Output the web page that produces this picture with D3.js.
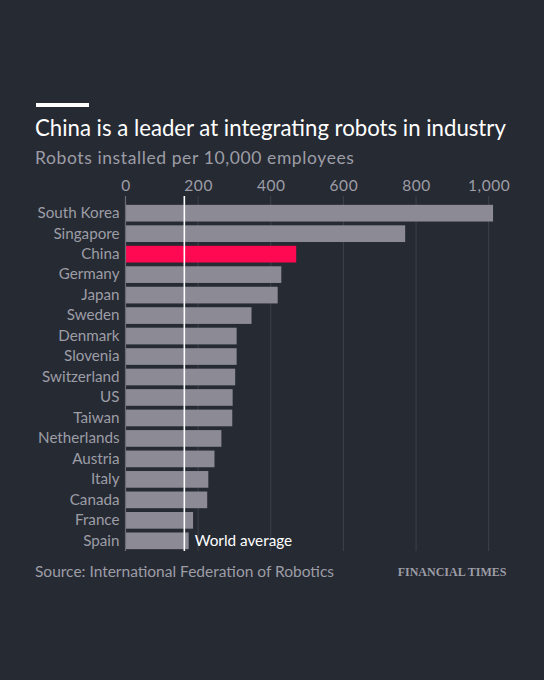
<!DOCTYPE html>
<html>
<head>
<meta charset="utf-8">
<script src="https://cdn.jsdelivr.net/npm/d3@7"></script>
<style>
  html, body { margin: 0; padding: 0; background: #262a33; }
  svg { display: block; }
</style>
</head>
<body>
<div id="chart"></div>
<script>
// ── Data ───────────────────────────────────────────────
const countries = [
  'South Korea', 'Singapore', 'China', 'Germany', 'Japan', 'Sweden',
  'Denmark', 'Slovenia', 'Switzerland', 'US', 'Taiwan', 'Netherlands',
  'Austria', 'Italy', 'Canada', 'France', 'Spain'
];
const robots = [
  1012, 770, 470, 429, 419, 347,
  306, 306, 302, 295, 294, 264,
  245, 228, 225, 186, 174
];
const worldAverage = 162;
const tickValues = [0, 200, 400, 600, 800, 1000];
const highlight = 'China';

// ── Layout ─────────────────────────────────────────────
const width = 544, height = 680;
const margin = { left: 125.5, right: 55.3, top: 203, bottom: 129 };
const sans = 'Lato, "Open Sans", sans-serif';
const grey = '#9d9da6';

const svg = d3.select('#chart')
  .append('svg')
  .attr('width', width)
  .attr('height', height)
  .attr('font-family', sans);

svg.append('rect')
  .attr('width', width).attr('height', height)
  .attr('fill', '#262a33');

// header rule + titles
svg.append('rect')
  .attr('x', 36).attr('y', 103)
  .attr('width', 53).attr('height', 4)
  .attr('fill', '#ffffff');

svg.append('text')
  .attr('x', 35).attr('y', 136)
  .attr('fill', '#ffffff')
  .attr('font-size', 22.2)
  .text('China is a leader at integrating robots in industry');

svg.append('text')
  .attr('x', 35).attr('y', 164)
  .attr('fill', grey)
  .attr('font-size', 17.5)
  .attr('letter-spacing', 0.6)
  .text('Robots installed per 10,000 employees');

// ── Scales ─────────────────────────────────────────────
const x = d3.scaleLinear()
  .domain([0, 1000])
  .range([margin.left, width - margin.right]);

const y = d3.scaleBand()
  .domain(countries)
  .range([margin.top, height - margin.bottom])
  .paddingInner(0.185)
  .paddingOuter(0.09);

const gridTop = 196, gridBottom = 551;

// ── Gridlines ──────────────────────────────────────────
svg.append('g')
  .selectAll('line')
  .data(tickValues.slice(1))
  .join('line')
  .attr('x1', d => x(d)).attr('x2', d => x(d))
  .attr('y1', gridTop).attr('y2', gridBottom)
  .attr('stroke', '#3d414b')
  .attr('stroke-width', 1);

// ── Top axis (labels only) ─────────────────────────────
svg.append('g')
  .attr('transform', `translate(0,${gridTop})`)
  .call(d3.axisTop(x).tickValues(tickValues).tickSize(0).tickPadding(5)
    .tickFormat(d3.format(',')))
  .call(g => g.select('.domain').remove())
  .call(g => g.selectAll('.tick text')
    .attr('fill', grey)
    .attr('font-family', sans)
    .attr('font-size', 15.5)
    .attr('letter-spacing', 0.6));

// ── Bars ───────────────────────────────────────────────
svg.append('g')
  .selectAll('rect')
  .data(countries)
  .join('rect')
  .attr('x', x(0))
  .attr('y', d => y(d))
  .attr('width', (d, i) => x(robots[i]) - x(0))
  .attr('height', y.bandwidth())
  .attr('fill', d => d === highlight ? '#ff0a52' : '#8b8a95');

// zero line
svg.append('line')
  .attr('x1', x(0)).attr('x2', x(0))
  .attr('y1', gridTop).attr('y2', gridBottom)
  .attr('stroke', '#6c6c75')
  .attr('stroke-width', 1.2);

// ── Category labels ────────────────────────────────────
svg.append('g')
  .attr('transform', `translate(${x(0)},0)`)
  .call(d3.axisLeft(y).tickSize(0).tickPadding(6))
  .call(g => g.select('.domain').remove())
  .call(g => g.selectAll('.tick text')
    .attr('fill', grey)
    .attr('font-family', sans)
    .attr('font-size', 15.2));

// ── World average marker ───────────────────────────────
svg.append('line')
  .attr('x1', x(worldAverage)).attr('x2', x(worldAverage))
  .attr('y1', gridTop).attr('y2', gridBottom)
  .attr('stroke', '#ffffff')
  .attr('stroke-width', 1.6);

svg.append('text')
  .attr('x', x(robots[robots.length - 1]) + 6)
  .attr('y', y(countries[countries.length - 1]) + y.bandwidth() / 2)
  .attr('dy', '0.35em')
  .attr('fill', '#ffffff')
  .attr('font-size', 15.3)
  .text('World average');

// ── Footer ─────────────────────────────────────────────
svg.append('text')
  .attr('x', 35).attr('y', 577)
  .attr('fill', grey)
  .attr('font-size', 15.5)
  .text('Source: International Federation of Robotics');

svg.append('text')
  .attr('x', 506.5).attr('y', 576)
  .attr('text-anchor', 'end')
  .attr('fill', grey)
  .attr('font-family', '"Liberation Serif", "DejaVu Serif", serif')
  .attr('font-weight', 'bold')
  .attr('font-size', 12)
  .text('FINANCIAL TIMES');
</script>
</body>
</html>
